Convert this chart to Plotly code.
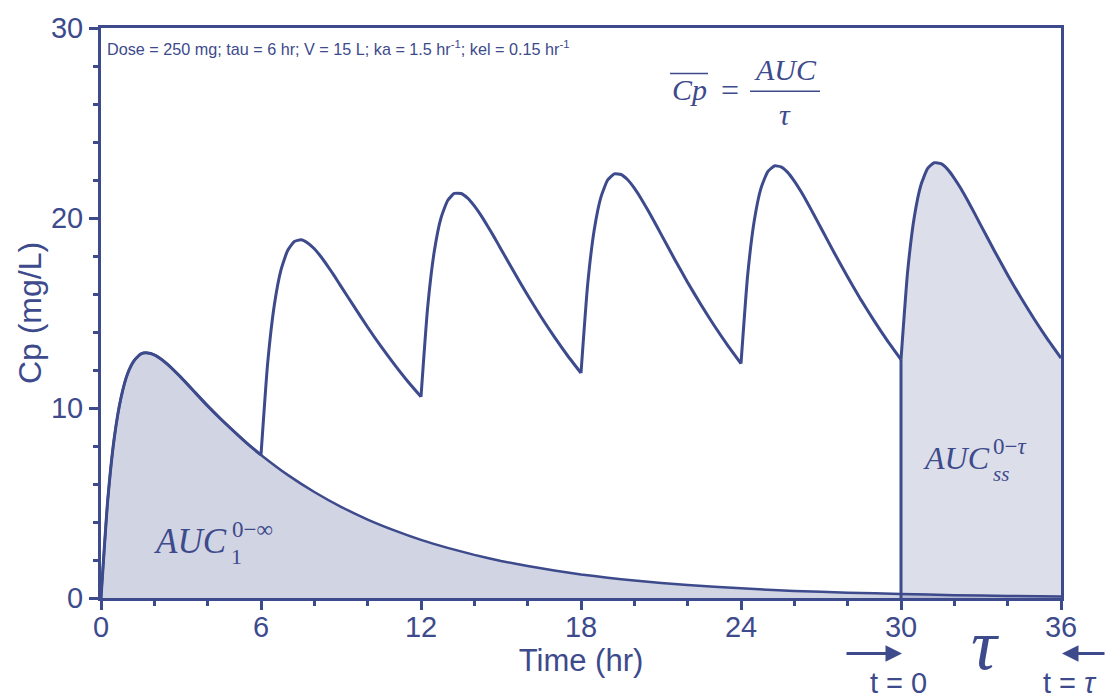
import plotly.graph_objects as go

# ---- data ----
single_t = [0, 0.25, 0.5, 0.75, 1, 1.25, 1.5, 1.75, 2, 2.25, 2.5, 2.75, 3, 3.5, 4, 4.5, 5, 5.5,
            6, 7, 8, 9, 10, 11, 12, 13, 14, 15, 16, 17, 18, 19, 20, 22, 24, 26, 28, 30, 32, 34, 36]
single_cp = [0, 5.11, 8.45, 10.54, 11.82, 12.51, 12.85, 12.90, 12.80, 12.58, 12.29, 11.96, 11.61,
             10.86, 10.11, 9.41, 8.75, 8.11, 7.53, 6.48, 5.58, 4.80, 4.13, 3.56, 3.06, 2.64,
             2.27, 1.95, 1.68, 1.45, 1.24, 1.07, 0.92, 0.68, 0.51, 0.37, 0.28, 0.21, 0.15,
             0.11, 0.08]

tau = 6
interval_s = [0, 0.25, 0.5, 0.75, 1, 1.25, 1.5, 1.75, 2, 2.25, 2.5, 2.75, 3, 3.5, 4, 4.5, 5, 5.5, 6]
dose2_cp = [7.53, 12.36, 15.42, 17.27, 18.29, 18.76, 18.85, 18.69, 18.38, 17.96, 17.47, 16.95,
            16.40, 15.32, 14.25, 13.24, 12.30, 11.41, 10.59]
dose3_cp = [10.59, 15.31, 18.26, 20.00, 20.92, 21.29, 21.29, 21.05, 20.64, 20.14, 19.57, 18.98,
            18.36, 17.13, 15.93, 14.80, 13.74, 12.75, 11.84]
dose4_cp = [11.84, 16.51, 19.41, 21.11, 22.00, 22.32, 22.29, 22.01, 21.57, 21.03, 20.43, 19.80,
            19.15, 17.86, 16.61, 15.43, 14.33, 13.30, 12.34]
dose5_cp = [12.34, 17.00, 19.88, 21.57, 22.43, 22.74, 22.69, 22.40, 21.94, 21.39, 20.78, 20.13,
            19.47, 18.16, 16.89, 15.69, 14.57, 13.52, 12.55]
dose6_cp = [12.55, 17.20, 20.07, 21.75, 22.61, 22.91, 22.86, 22.56, 22.09, 21.54, 20.92, 20.27,
            19.60, 18.28, 17.00, 15.80, 14.67, 13.61, 12.63]

x_ticks = [0, 6, 12, 18, 24, 30, 36]
y_ticks = [0, 10, 20, 30]

C = "#3d4a8c"
SANS = "Liberation Sans, Arial, sans-serif"
SERIF = "Liberation Serif, Times New Roman, serif"
LINE = dict(color=C, width=3, shape="spline", smoothing=0.5)

fig = go.Figure()

# AUC single dose fill
fig.add_trace(go.Scatter(x=single_t, y=single_cp, mode="lines", fill="tozeroy",
                         fillcolor="rgba(61,74,140,0.24)",
                         line=dict(color=C, width=2.5, shape="spline", smoothing=0.5),
                         hoverinfo="skip"))
# steady-state fill (last interval)
x6 = [5 * tau + s for s in interval_s]
fig.add_trace(go.Scatter(x=x6, y=dose6_cp, mode="lines", fill="tozeroy",
                         fillcolor="rgba(61,74,140,0.18)", line=LINE, hoverinfo="skip"))
# first interval drawn thicker (multiple dose curve)
n1 = single_t.index(tau) + 1
fig.add_trace(go.Scatter(x=single_t[:n1], y=single_cp[:n1], mode="lines", line=LINE,
                         hoverinfo="skip"))
for k, cp in enumerate([dose2_cp, dose3_cp, dose4_cp, dose5_cp], start=1):
    fig.add_trace(go.Scatter(x=[k * tau + s for s in interval_s], y=cp, mode="lines",
                             line=LINE, hoverinfo="skip"))
# vertical edge at start of steady-state interval
fig.add_trace(go.Scatter(x=[5 * tau, 5 * tau], y=[0, dose6_cp[0]], mode="lines",
                         line=dict(color=C, width=3), hoverinfo="skip"))

L, T, W, H = 101, 22, 960, 576


def px(x):
    return (x - L) / W


def py(y):
    return (T + H - y) / H


ann = []


def text(x, y, s, size, family=SANS, xa="center", ya="middle"):
    ann.append(dict(x=px(x), y=py(y), xref="paper", yref="paper", text=s, showarrow=False,
                    font=dict(size=size, family=family, color=C), xanchor=xa, yanchor=ya))


text(105, 42, "Dose = 250 mg; tau = 6 hr; V = 15 L; ka = 1.5 hr<sup>-1</sup>; kel = 0.15 hr<sup>-1</sup>",
     16.2, xa="left")
# Cp bar = AUC / tau
text(689, 84, "<i>Cp</i>", 30, SERIF)
text(730, 85, "=", 32, SERIF)
text(785, 64, "<i>AUC</i>", 30, SERIF)
text(785, 109, "<i>τ</i>", 30, SERIF)
# AUC1 label
text(190, 541, "<i>AUC</i>", 35, SERIF)
text(229, 556, "1", 22, SERIF, xa="left")
text(230, 529, "0−∞", 23, SERIF, xa="left")
# AUCss label
text(956, 457, "<i>AUC</i>", 32, SERIF)
text(991, 473, "<i>ss</i>", 21, SERIF, xa="left")
text(991, 445, "0−<i>τ</i>", 23, SERIF, xa="left")
# tau below axis
text(985, 645, "<i>τ</i>", 72, SERIF)
text(898, 684, "t = 0", 29)
text(1070, 684, "t = <i>τ</i>", 29)
# arrows
ann.append(dict(x=px(902), y=py(654), xref="paper", yref="paper", ax=-57, ay=0, text="",
                showarrow=True, arrowhead=2, arrowsize=1.1, arrowwidth=3, arrowcolor=C))
ann.append(dict(x=px(1062), y=py(654), xref="paper", yref="paper", ax=46, ay=0, text="",
                showarrow=True, arrowhead=2, arrowsize=1.1, arrowwidth=3, arrowcolor=C))

shapes = [
    dict(type="line", xref="paper", yref="paper", x0=px(670), x1=px(708), y0=py(68), y1=py(68),
         line=dict(color=C, width=1.5)),
    dict(type="line", xref="paper", yref="paper", x0=px(750), x1=px(820), y0=py(86), y1=py(86),
         line=dict(color=C, width=1.5)),
]

axis_common = dict(showline=True, linewidth=3, linecolor=C, mirror=True, showgrid=False,
                   zeroline=False, ticks="outside", ticklen=9, tickwidth=2.5, tickcolor=C,
                   tickfont=dict(size=29, family=SANS, color=C))

fig.update_layout(
    width=1106, height=699,
    margin=dict(l=L, r=1106 - L - W, t=T, b=699 - T - H),
    plot_bgcolor="white", paper_bgcolor="white", showlegend=False,
    xaxis=dict(range=[0, 36], tickvals=x_ticks, **axis_common, ticklabelstandoff=-8,
               minor=dict(dtick=2, ticks="outside", ticklen=5, tickwidth=2.5, tickcolor=C, showgrid=False),
               title=dict(text="Time (hr)", font=dict(size=31, family=SANS, color=C), standoff=0)),
    yaxis=dict(range=[0, 30], tickvals=y_ticks, **axis_common,
               minor=dict(dtick=2, ticks="outside", ticklen=5, tickwidth=2.5, tickcolor=C, showgrid=False),
               title=dict(text="Cp (mg/L)", font=dict(size=32, family=SANS, color=C), standoff=0)),
    annotations=ann, shapes=shapes,
)

fig.write_html("out.html")
